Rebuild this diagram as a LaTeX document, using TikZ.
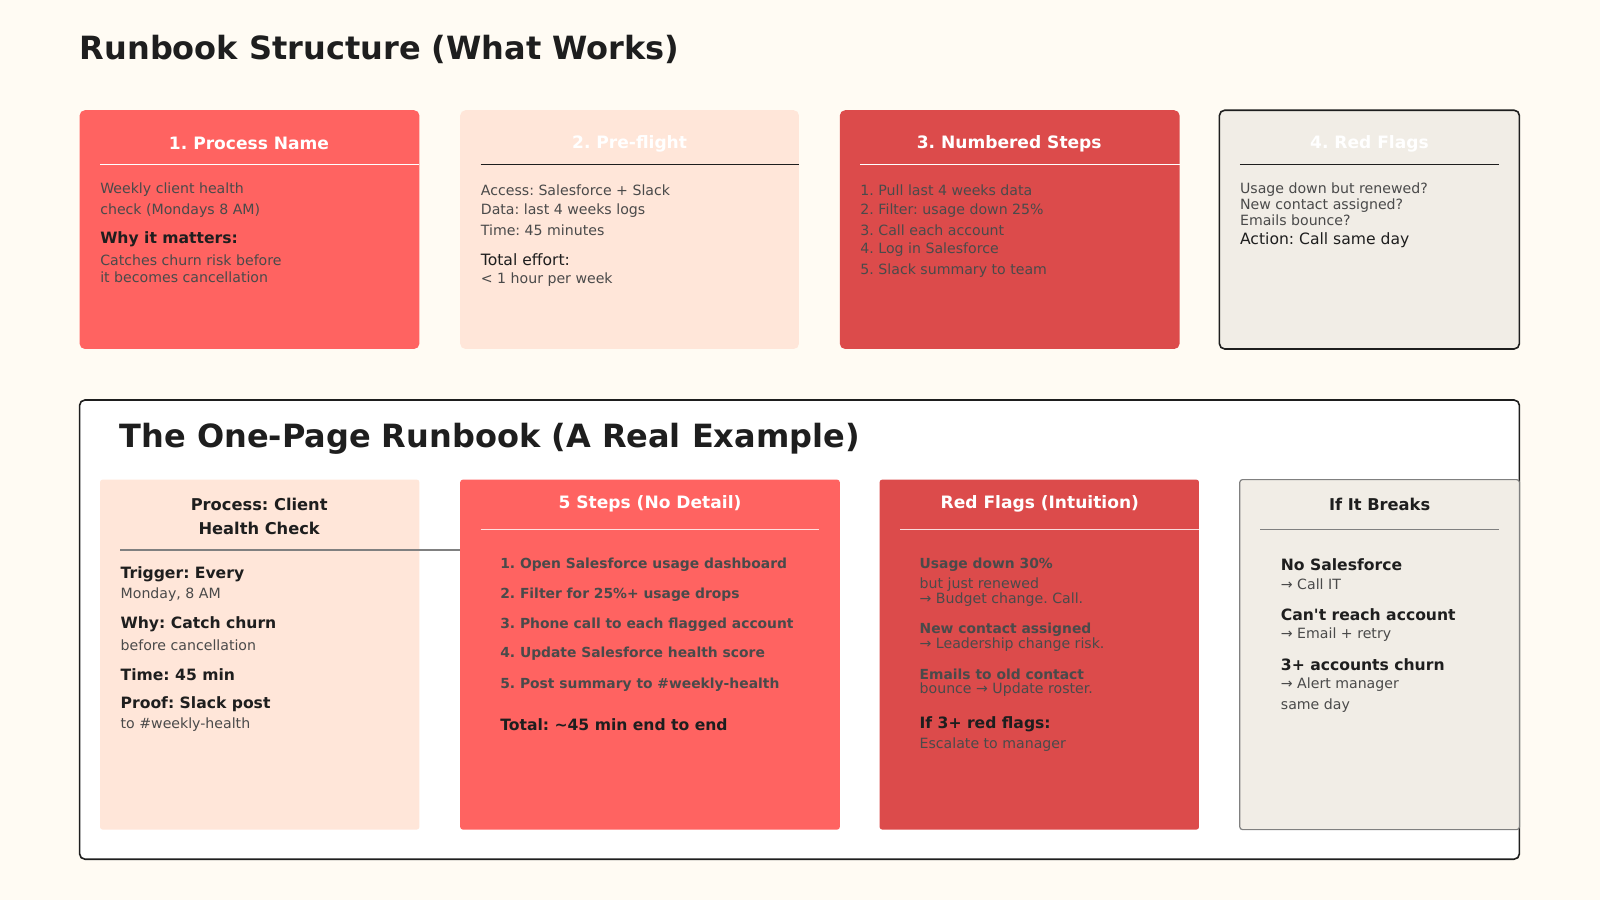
\documentclass[tikz,border=0pt]{standalone}
\usepackage{fontspec}
\setmainfont{DejaVu Sans}
\frenchspacing
\definecolor{bg}{HTML}{FFFBF3}
\definecolor{cora}{HTML}{FF6361}
\definecolor{peach}{HTML}{FFE6D9}
\definecolor{redd}{HTML}{DC4B4B}
\definecolor{stone}{HTML}{F1EDE6}
\definecolor{ink}{HTML}{1E1E1E}
\definecolor{body}{HTML}{4A4A4A}
\begin{document}
\begin{tikzpicture}[x=0.7653pt,y=-0.7653pt,
  card/.style={rounded corners=4pt},
  ttl/.style={font=\bfseries\fontsize{12.8}{14}\selectfont,anchor=center},
  tx/.style={anchor=west,inner sep=0pt,text=body,font=\fontsize{10.6}{12}\selectfont},
  bt/.style={anchor=west,inner sep=0pt,text=ink,font=\bfseries\fontsize{11.7}{14}\selectfont},
  mt/.style={anchor=west,inner sep=0pt,text=ink,font=\fontsize{11.7}{14}\selectfont},
  st/.style={anchor=west,inner sep=0pt,text=body,font=\bfseries\fontsize{10.4}{12}\selectfont},
  big/.style={anchor=west,inner sep=0pt,text=ink,font=\bfseries\fontsize{24}{28}\selectfont}]
\fill[bg] (0,0) rectangle (1568,882);
\useasboundingbox (0,0) rectangle (1568,882);
\node[big] (t1) at (78,48) {Runbook Structure (What Works)};
% top cards
\fill[cora,card] (78,108) rectangle (411,342);
\fill[peach,card] (451,108) rectangle (783,342);
\fill[redd,card] (823,108) rectangle (1156,342);
\filldraw[fill=stone,draw=ink,line width=1.2pt,card] (1195,108) rectangle (1489,342);
\node[ttl,text=white] (c1) at (244,141) {1. Process Name};
\node[ttl,text=white] (c2) at (617,141) {2. Pre-flight};
\node[ttl,text=white] (c3) at (989,141) {3. Numbered Steps};
\node[ttl,text=white] (c4) at (1342,141) {4. Red Flags};
\draw[white,line width=1pt] (98,161) -- (411,161);
\draw[ink,line width=1pt] (471,161) -- (783,161);
\draw[white,line width=1pt] (843,161) -- (1156,161);
\draw[ink,line width=1pt] (1215,161) -- (1469,161);
\node[tx] (a1) at (98,186) {Weekly client health};
\node[tx] (a2) at (98,206) {check (Mondays 8 AM)};
\node[bt] (a3) at (98,234) {Why it matters:};
\node[tx] (a4) at (98,255) {Catches churn risk before};
\node[tx] (a5) at (98,272) {it becomes cancellation};
\node[tx] (b1) at (471,186) {Access: Salesforce + Slack};
\node[tx] (b2) at (471,206) {Data: last 4 weeks logs};
\node[tx] (b3) at (471,226) {Time: 45 minutes};
\node[mt] (b4) at (471,254) {Total effort:};
\node[tx] (b5) at (471,274) {< 1 hour per week};
\node[tx] (d1) at (843,186) {1. Pull last 4 weeks data};
\node[tx] (d2) at (843,206) {2. Filter: usage down 25\%};
\node[tx] (d3) at (843,226) {3. Call each account};
\node[tx] (d4) at (843,245) {4. Log in Salesforce};
\node[tx] (d5) at (843,265) {5. Slack summary to team};
\node[tx] (e1) at (1215,186) {Usage down but renewed?};
\node[tx] (e2) at (1215,201) {New contact assigned?};
\node[tx] (e3) at (1215,216) {Emails bounce?};
\node[mt] (e4) at (1215,235) {Action: Call same day};
% bottom
\filldraw[fill=white,draw=ink,line width=1.2pt,card] (78,392) rectangle (1489,842);
\node[big] (t2) at (117,430) {The One-Page Runbook (A Real Example)};
\fill[peach,rounded corners=2pt] (98,470) rectangle (411,813);
\fill[cora,rounded corners=2pt] (451,470) rectangle (823,813);
\fill[redd,rounded corners=2pt] (862,470) rectangle (1175,813);
\filldraw[fill=stone,draw=gray,line width=0.9pt,rounded corners=2pt] (1215,470) rectangle (1489,813);
\node[ttl,text=ink,align=center,font=\bfseries\fontsize{12.2}{18.5}\selectfont] (p1) at (254,506) {Process: Client\\Health Check};
\draw[gray,line width=0.9pt] (118,539) -- (451,539);
\node[ttl,text=white] (p2) at (637,494) {5 Steps (No Detail)};
\draw[white!80!cora,line width=1pt] (471,519) -- (803,519);
\node[ttl,text=white] (p3) at (1019,494) {Red Flags (Intuition)};
\draw[white!80!redd,line width=1pt] (882,519) -- (1175,519);
\node[ttl,text=ink,font=\bfseries\fontsize{12.2}{14}\selectfont] (p4) at (1352,494) {If It Breaks};
\draw[gray,line width=0.9pt] (1235,519) -- (1469,519);
% A
\node[bt] (f1) at (118,563) {Trigger: Every};
\node[tx] (f2) at (118,583) {Monday, 8 AM};
\node[bt] (f3) at (118,612) {Why: Catch churn};
\node[tx] (f4) at (118,632) {before cancellation};
\node[bt] (f5) at (118,661) {Time: 45 min};
\node[bt] (f6) at (118,690) {Proof: Slack post};
\node[tx] (f7) at (118,710) {to \#weekly-health};
% B
\node[st] (g1) at (490,553) {1. Open Salesforce usage dashboard};
\node[st] (g2) at (490,583) {2. Filter for 25\%+ usage drops};
\node[st] (g3) at (490,612) {3. Phone call to each flagged account};
\node[st] (g4) at (490,641) {4. Update Salesforce health score};
\node[st] (g5) at (490,671) {5. Post summary to \#weekly-health};
\node[bt] (g6) at (490,710) {Total: \textasciitilde45 min end to end};
% C
\node[st] (h1) at (901,553) {Usage down 30\%};
\node[tx] (h2) at (901,573) {but just renewed};
\node[tx] (h3) at (901,588) {→ Budget change. Call.};
\node[st] (h4) at (901,617) {New contact assigned};
\node[tx] (h5) at (901,632) {→ Leadership change risk.};
\node[st] (h6) at (901,661) {Emails to old contact};
\node[tx] (h7) at (901,676) {bounce → Update roster.};
\node[bt] (h8) at (901,710) {If 3+ red flags:};
\node[tx] (h9) at (901,730) {Escalate to manager};
% D
\node[bt] (k1) at (1255,553) {No Salesforce};
\node[tx] (k2) at (1255,573) {→ Call IT};
\node[bt] (k3) at (1255,602) {Can\textquotesingle t reach account};
\node[tx] (k4) at (1255,622) {→ Email + retry};
\node[bt] (k5) at (1255,651) {3+ accounts churn};
\node[tx] (k6) at (1255,671) {→ Alert manager};
\node[tx] (k7) at (1255,691) {same day};
\end{tikzpicture}
\end{document}
